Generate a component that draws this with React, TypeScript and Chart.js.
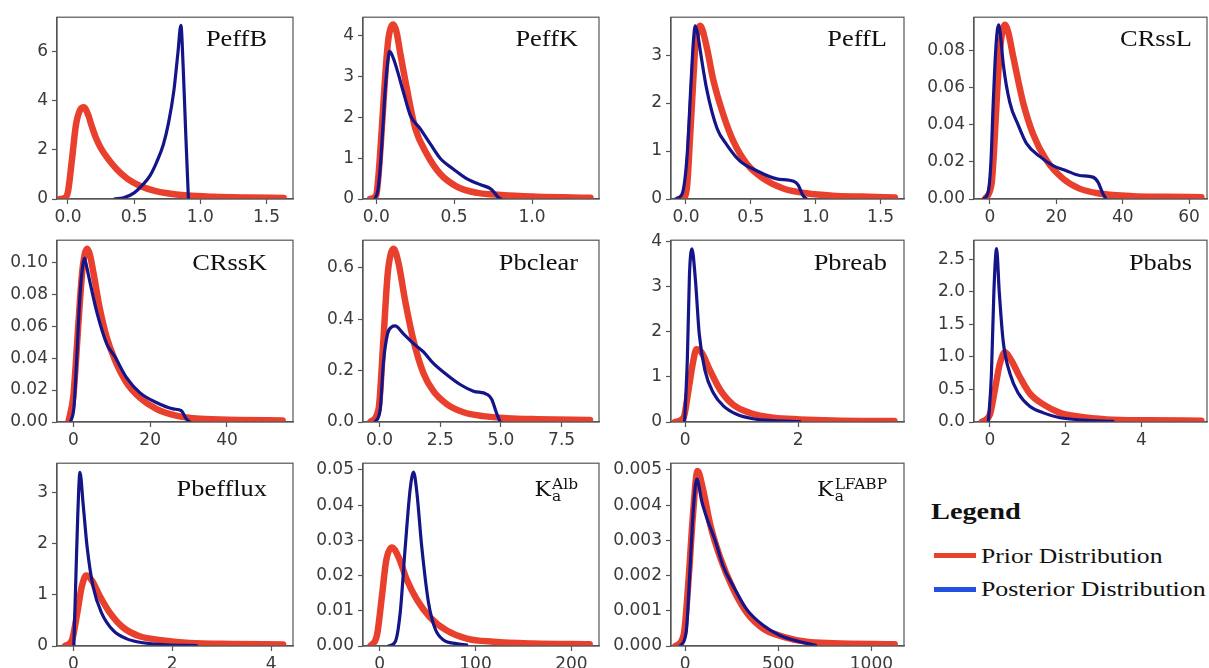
import React, { useEffect, useRef } from 'react';
import { Chart, registerables } from 'chart.js';
Chart.register(...registerables);

// ---------- data ----------
const PEFFB_PRIOR_X = [-0.06, -0.02, 0.0, 0.03, 0.06, 0.09, 0.12, 0.15, 0.18, 0.21, 0.25, 0.3, 0.37, 0.45, 0.55, 0.65, 0.75, 0.9, 1.1, 1.35, 1.63];
const PEFFB_PRIOR_Y = [0, 0.05, 0.3, 1.6, 3.0, 3.6, 3.72, 3.45, 2.95, 2.5, 2.05, 1.65, 1.2, 0.82, 0.52, 0.34, 0.23, 0.14, 0.09, 0.06, 0.04];
const PEFFB_POST_X = [0.35, 0.42, 0.5, 0.56, 0.62, 0.67, 0.72, 0.76, 0.8, 0.83, 0.853, 0.87, 0.89, 0.91];
const PEFFB_POST_Y = [0, 0.05, 0.25, 0.55, 0.95, 1.5, 2.2, 3.1, 4.4, 5.9, 7.05, 5.4, 2.6, 0];

const PEFFK_PRIOR_X = [-0.04, 0.0, 0.015, 0.03, 0.047, 0.065, 0.08, 0.11, 0.13, 0.154, 0.197, 0.25, 0.325, 0.41, 0.52, 0.65, 0.8, 1.0, 1.2, 1.375];
const PEFFK_PRIOR_Y = [0, 0.1, 0.6, 1.4, 2.4, 3.4, 3.98, 4.28, 4.1, 3.58, 2.7, 1.74, 1.1, 0.62, 0.3, 0.15, 0.1, 0.06, 0.04, 0.03];
const PEFFK_POST_X = [-0.01, 0.01, 0.026, 0.04, 0.058, 0.075, 0.086, 0.11, 0.133, 0.176, 0.218, 0.283, 0.347, 0.41, 0.5, 0.58, 0.67, 0.73, 0.76, 0.78, 0.8];
const PEFFK_POST_Y = [0, 0.2, 0.78, 1.6, 2.7, 3.4, 3.62, 3.45, 3.18, 2.6, 2.06, 1.72, 1.35, 1.0, 0.72, 0.5, 0.35, 0.26, 0.15, 0.05, 0];

const PEFFL_PRIOR_X = [-0.056, -0.02, 0.008, 0.033, 0.055, 0.072, 0.09, 0.11, 0.16, 0.21, 0.29, 0.366, 0.47, 0.6, 0.75, 0.93, 1.13, 1.35, 1.61];
const PEFFL_PRIOR_Y = [0, 0.03, 0.25, 1.34, 2.4, 3.17, 3.5, 3.61, 3.17, 2.49, 1.74, 1.2, 0.73, 0.42, 0.22, 0.12, 0.07, 0.05, 0.03];
const PEFFL_POST_X = [-0.08, -0.03, 0.008, 0.038, 0.058, 0.072, 0.09, 0.11, 0.16, 0.24, 0.315, 0.417, 0.545, 0.7, 0.83, 0.865, 0.9, 0.93];
const PEFFL_POST_Y = [0, 0.1, 0.86, 2.36, 3.3, 3.61, 3.45, 3.1, 2.29, 1.47, 1.13, 0.79, 0.59, 0.42, 0.37, 0.29, 0.08, 0];

const CRSSL_PRIOR_X = [-1.5, 0.5, 1.2, 2, 3, 4.5, 5.5, 7, 10, 13, 17, 22, 27, 33, 43, 53, 63.7];
const CRSSL_PRIOR_Y = [0, 0.0083, 0.025, 0.052, 0.08, 0.094, 0.09, 0.077, 0.052, 0.035, 0.021, 0.011, 0.0056, 0.003, 0.0015, 0.0012, 0.001];
const CRSSL_POST_X = [-2, -0.5, 0.3, 1, 1.8, 2.6, 3.2, 4, 6, 8.5, 11, 15, 19, 23, 27, 31, 32.6, 34, 35];
const CRSSL_POST_Y = [0, 0.004, 0.02, 0.052, 0.082, 0.094, 0.088, 0.073, 0.052, 0.04, 0.03, 0.023, 0.018, 0.0153, 0.0127, 0.0118, 0.009, 0.003, 0];

const CRSSK_PRIOR_X = [-1.3, 0, 0.6, 1.3, 2.4, 3.6, 4.3, 5.2, 6.9, 8.7, 10.8, 13.9, 17.3, 21.6, 26.8, 33, 43, 54.5];
const CRSSK_PRIOR_Y = [0, 0.016, 0.035, 0.061, 0.096, 0.1086, 0.105, 0.094, 0.071, 0.053, 0.039, 0.0245, 0.0153, 0.0082, 0.004, 0.002, 0.0013, 0.001];
const CRSSK_POST_X = [-0.7, 0.2, 0.7, 1.7, 2.4, 2.9, 3.5, 4.3, 6.1, 8.7, 10.8, 13.9, 17.3, 21.6, 26, 28.1, 29.4, 30.3];
const CRSSK_POST_Y = [0, 0.01, 0.031, 0.078, 0.097, 0.1027, 0.097, 0.088, 0.069, 0.049, 0.041, 0.0276, 0.0184, 0.0122, 0.0082, 0.0071, 0.002, 0];

const PBCLEAR_PRIOR_X = [-0.38, -0.04, 0.16, 0.33, 0.45, 0.58, 0.78, 1.06, 1.4, 1.81, 2.22, 2.77, 3.46, 4.28, 5.24, 6.5, 8.67];
const PBCLEAR_PRIOR_Y = [0, 0.05, 0.32, 0.57, 0.65, 0.675, 0.62, 0.47, 0.317, 0.19, 0.12, 0.07, 0.038, 0.023, 0.015, 0.011, 0.008];
const PBCLEAR_POST_X = [-0.18, 0.03, 0.16, 0.33, 0.5, 0.64, 0.99, 1.4, 1.81, 2.22, 2.77, 3.32, 3.87, 4.42, 4.62, 4.83, 4.97];
const PBCLEAR_POST_Y = [0, 0.05, 0.23, 0.343, 0.37, 0.374, 0.343, 0.305, 0.273, 0.228, 0.184, 0.146, 0.12, 0.108, 0.089, 0.032, 0];

const PBREAB_PRIOR_X = [-0.18, -0.03, 0.06, 0.135, 0.2, 0.29, 0.44, 0.62, 0.85, 1.15, 1.56, 2.03, 2.62, 3.7];
const PBREAB_PRIOR_Y = [0, 0.09, 0.71, 1.29, 1.61, 1.54, 1.14, 0.71, 0.38, 0.2, 0.094, 0.058, 0.035, 0.02];
const PBREAB_POST_X = [-0.01, 0.04, 0.076, 0.12, 0.18, 0.25, 0.35, 0.5, 0.68, 0.91, 1.2, 1.56, 2.03];
const PBREAB_POST_Y = [0, 1.43, 3.24, 3.83, 3.17, 1.94, 1.14, 0.64, 0.35, 0.17, 0.072, 0.03, 0.01];

const PBABS_PRIOR_X = [-0.22, 0, 0.13, 0.26, 0.4, 0.57, 0.79, 1.05, 1.41, 1.85, 2.37, 3.08, 4.2, 5.58];
const PBABS_PRIOR_Y = [0, 0.115, 0.49, 0.89, 1.07, 0.94, 0.69, 0.44, 0.27, 0.14, 0.08, 0.04, 0.025, 0.02];
const PBABS_POST_X = [-0.04, 0.04, 0.105, 0.176, 0.246, 0.35, 0.53, 0.75, 1.05, 1.41, 1.85, 2.46, 3.25];
const PBABS_POST_Y = [0, 0.74, 2.0, 2.66, 2.0, 1.24, 0.74, 0.44, 0.24, 0.14, 0.065, 0.03, 0.01];

const PBEFFLUX_PRIOR_X = [-0.17, -0.03, 0.08, 0.17, 0.26, 0.37, 0.54, 0.74, 1.01, 1.34, 1.82, 2.35, 3.2, 4.24];
const PBEFFLUX_PRIOR_Y = [0, 0.11, 0.65, 1.16, 1.38, 1.29, 0.97, 0.65, 0.36, 0.19, 0.11, 0.06, 0.04, 0.03];
const PBEFFLUX_POST_X = [0.01, 0.05, 0.09, 0.134, 0.2, 0.28, 0.4, 0.57, 0.81, 1.08, 1.41, 1.88, 2.49];
const PBEFFLUX_POST_Y = [0, 1.29, 2.57, 3.4, 2.76, 1.93, 1.16, 0.65, 0.3, 0.14, 0.064, 0.025, 0.01];

const KAALB_PRIOR_X = [-9.7, -2.8, 2.4, 6.9, 12.8, 19.8, 28.4, 38.8, 52.7, 70, 90.8, 118.5, 160, 219];
const KAALB_PRIOR_Y = [0, 0.003, 0.0141, 0.0243, 0.028, 0.0252, 0.0188, 0.0132, 0.0081, 0.0044, 0.0021, 0.0012, 0.0007, 0.0005];
const KAALB_POST_X = [9.4, 16.3, 21.5, 26.7, 31.9, 35.4, 38.8, 44, 51, 57.9, 66.6, 80, 90.8];
const KAALB_POST_Y = [0, 0.0012, 0.0095, 0.028, 0.0446, 0.0494, 0.0437, 0.028, 0.0123, 0.0049, 0.0017, 0.0007, 0.0003];

const KALFABP_PRIOR_X = [-54, -9, 18, 41, 66, 95, 134, 187, 259, 330, 420, 527, 652, 795, 1125];
const KALFABP_PRIOR_Y = [0, 0.0003, 0.0019, 0.0037, 0.00497, 0.00446, 0.00345, 0.00252, 0.0016, 0.00095, 0.00049, 0.00026, 0.00012, 0.00008, 0.00005];
const KALFABP_POST_X = [-27, 5, 27, 45, 62, 89, 116, 161, 205, 259, 330, 420, 509, 616, 700];
const KALFABP_POST_Y = [0, 0.0004, 0.00234, 0.004, 0.00474, 0.0041, 0.00363, 0.00299, 0.00225, 0.00169, 0.00104, 0.00058, 0.0003, 0.00012, 0.00002];

// tick labels
const TICKS_X_PEFF = [0, 0.5, 1.0, 1.5];
const TICKS_X_PEFFK = [0, 0.5, 1.0];
const TICKS_X_CRSSL = [0, 20, 40, 60];
const TICKS_X_CRSSK = [0, 20, 40];
const TICKS_X_PBCLEAR = [0, 2.5, 5.0, 7.5];
const TICKS_X_PBREAB = [0, 2];
const TICKS_X_024 = [0, 2, 4];
const TICKS_X_ALB = [0, 100, 200];
const TICKS_X_LFABP = [0, 500, 1000];
const TICKS_Y_PEFFB = [0, 2, 4, 6];
const TICKS_Y_PEFFK = [0, 1, 2, 3, 4];
const TICKS_Y_0123 = [0, 1, 2, 3];
const TICKS_Y_CRSSL = [0, 0.02, 0.04, 0.06, 0.08];
const TICKS_Y_CRSSK = [0, 0.02, 0.04, 0.06, 0.08, 0.1];
const TICKS_Y_PBCLEAR = [0, 0.2, 0.4, 0.6];
const TICKS_Y_PBABS = [0, 0.5, 1.0, 1.5, 2.0, 2.5];
const TICKS_Y_ALB = [0, 0.01, 0.02, 0.03, 0.04, 0.05];
const TICKS_Y_LFABP = [0, 0.001, 0.002, 0.003, 0.004, 0.005];

const LEGEND_LABELS = ['Prior Distribution', 'Posterior Distribution'];

// ---------- styling / layout ----------
const PRIOR_COLOR = '#e9402d';
const POST_COLOR = '#15158a';
const LEGEND_PRIOR = '#e8412e';
const LEGEND_POST = '#2150e3';
const TICK_COLOR = '#3a3a3a';
const AXIS_COLOR = '#555555';

const YW = 72;
const XH = 30;
const TOP_PAD = 10;
const RIGHT_PAD = 2;
const COL_L = [57, 363, 671, 974];
const COL_R = [293, 599, 904, 1207];
const ROW_T = [13, 236, 459];
const ROW_B = [199, 422, 646];
const TITLE_RPAD = [26, 21, 17, 15];
const TITLE_DY = [29, 30, 33];

type PanelSpec = {
  title: string;
  sup?: string;
  row: number;
  col: number;
  priorX: number[]; priorY: number[];
  postX: number[]; postY: number[];
  xMin: number; xMax: number; yMax: number;
  xTicks: number[]; yTicks: number[];
  xDec: number; yDec: number;
};

const PANELS: PanelSpec[] = [
  { title: 'PeffB', row: 0, col: 0, priorX: PEFFB_PRIOR_X, priorY: PEFFB_PRIOR_Y, postX: PEFFB_POST_X, postY: PEFFB_POST_Y, xMin: -0.083, xMax: 1.70, yMax: 7.38, xTicks: TICKS_X_PEFF, yTicks: TICKS_Y_PEFFB, xDec: 1, yDec: 0 },
  { title: 'PeffK', row: 0, col: 1, priorX: PEFFK_PRIOR_X, priorY: PEFFK_PRIOR_Y, postX: PEFFK_POST_X, postY: PEFFK_POST_Y, xMin: -0.085, xMax: 1.43, yMax: 4.46, xTicks: TICKS_X_PEFFK, yTicks: TICKS_Y_PEFFK, xDec: 1, yDec: 0 },
  { title: 'PeffL', row: 0, col: 2, priorX: PEFFL_PRIOR_X, priorY: PEFFL_PRIOR_Y, postX: PEFFL_POST_X, postY: PEFFL_POST_Y, xMin: -0.115, xMax: 1.68, yMax: 3.79, xTicks: TICKS_X_PEFF, yTicks: TICKS_Y_0123, xDec: 1, yDec: 0 },
  { title: 'CRssL', row: 0, col: 3, priorX: CRSSL_PRIOR_X, priorY: CRSSL_PRIOR_Y, postX: CRSSL_POST_X, postY: CRSSL_POST_Y, xMin: -4.8, xMax: 65.4, yMax: 0.0981, xTicks: TICKS_X_CRSSL, yTicks: TICKS_Y_CRSSL, xDec: 0, yDec: 2 },
  { title: 'CRssK', row: 1, col: 0, priorX: CRSSK_PRIOR_X, priorY: CRSSK_PRIOR_Y, postX: CRSSK_POST_X, postY: CRSSK_POST_Y, xMin: -4.25, xMax: 57.2, yMax: 0.1139, xTicks: TICKS_X_CRSSK, yTicks: TICKS_Y_CRSSK, xDec: 0, yDec: 2 },
  { title: 'Pbclear', row: 1, col: 1, priorX: PBCLEAR_PRIOR_X, priorY: PBCLEAR_PRIOR_Y, postX: PBCLEAR_POST_X, postY: PBCLEAR_POST_Y, xMin: -0.68, xMax: 9.04, yMax: 0.708, xTicks: TICKS_X_PBCLEAR, yTicks: TICKS_Y_PBCLEAR, xDec: 1, yDec: 1 },
  { title: 'Pbreab', row: 1, col: 2, priorX: PBREAB_PRIOR_X, priorY: PBREAB_PRIOR_Y, postX: PBREAB_POST_X, postY: PBREAB_POST_Y, xMin: -0.25, xMax: 3.87, yMax: 4.02, xTicks: TICKS_X_PBREAB, yTicks: TICKS_Y_PEFFK, xDec: 0, yDec: 0 },
  { title: 'Pbabs', row: 1, col: 3, priorX: PBABS_PRIOR_X, priorY: PBABS_PRIOR_Y, postX: PBABS_POST_X, postY: PBABS_POST_Y, xMin: -0.42, xMax: 5.73, yMax: 2.79, xTicks: TICKS_X_024, yTicks: TICKS_Y_PBABS, xDec: 0, yDec: 1 },
  { title: 'Pbefflux', row: 2, col: 0, priorX: PBEFFLUX_PRIOR_X, priorY: PBEFFLUX_PRIOR_Y, postX: PBEFFLUX_POST_X, postY: PBEFFLUX_POST_Y, xMin: -0.33, xMax: 4.44, yMax: 3.58, xTicks: TICKS_X_024, yTicks: TICKS_Y_0123, xDec: 0, yDec: 0 },
  { title: 'K', sup: 'Alb', row: 2, col: 1, priorX: KAALB_PRIOR_X, priorY: KAALB_PRIOR_Y, postX: KAALB_POST_X, postY: KAALB_POST_Y, xMin: -17.3, xMax: 228.7, yMax: 0.0519, xTicks: TICKS_X_ALB, yTicks: TICKS_Y_ALB, xDec: 0, yDec: 2 },
  { title: 'K', sup: 'LFABP', row: 2, col: 2, priorX: KALFABP_PRIOR_X, priorY: KALFABP_PRIOR_Y, postX: KALFABP_POST_X, postY: KALFABP_POST_Y, xMin: -76.6, xMax: 1175, yMax: 0.00519, xTicks: TICKS_X_LFABP, yTicks: TICKS_Y_LFABP, xDec: 0, yDec: 3 },
];

const toPoints = (xs: number[], ys: number[]) => xs.map((x, i) => ({ x, y: ys[i] }));

function Panel({ p }: { p: PanelSpec }) {
  const ref = useRef<HTMLCanvasElement | null>(null);
  const L = COL_L[p.col], R = COL_R[p.col], T = ROW_T[p.row], B = ROW_B[p.row];
  const W = YW + (R - L) + RIGHT_PAD;
  const H = TOP_PAD + (B - T) + XH;

  useEffect(() => {
    if (!ref.current) return;
    const decor = {
      id: 'panelDecor',
      afterDraw(chart: any) {
        const { ctx, chartArea: a } = chart;
        ctx.save();
        ctx.strokeStyle = AXIS_COLOR;
        ctx.lineWidth = 1.2;
        ctx.strokeRect(a.left, a.top, a.right - a.left, a.bottom - a.top);
        const SX = 1.1;
        const right = a.right - TITLE_RPAD[p.col];
        const base = a.top + TITLE_DY[p.row];
        ctx.fillStyle = '#111';
        ctx.textBaseline = 'alphabetic';
        ctx.textAlign = 'left';
        if (!p.sup) {
          ctx.font = '24px "Liberation Serif"';
          const w = ctx.measureText(p.title).width * SX;
          ctx.translate(right - w, base);
          ctx.scale(SX, 1);
          ctx.fillText(p.title, 0, 0);
        } else {
          ctx.font = '20px "DejaVu Serif"';
          const wK = ctx.measureText(p.title).width;
          ctx.font = '14px "DejaVu Serif"';
          const wSup = ctx.measureText(p.sup).width;
          const wSub = ctx.measureText('a').width;
          const total = (wK + 1 + Math.max(wSup, wSub)) * SX;
          ctx.translate(right - total, base);
          ctx.scale(SX, 1);
          ctx.font = '20px "DejaVu Serif"';
          ctx.fillText(p.title, 0, 0);
          ctx.font = '14px "DejaVu Serif"';
          ctx.fillText(p.sup, wK + 1, -7);
          ctx.fillText('a', wK + 1, 5);
        }
        ctx.restore();
      },
    };

    const tickFont = { family: '"DejaVu Sans"', size: 17 };
    const chart = new Chart(ref.current, {
      type: 'line',
      data: {
        datasets: [
          {
            label: LEGEND_LABELS[1],
            data: toPoints(p.postX, p.postY),
            borderColor: POST_COLOR,
            borderWidth: 3.2,
            order: 0,
          },
          {
            label: LEGEND_LABELS[0],
            data: toPoints(p.priorX, p.priorY),
            borderColor: PRIOR_COLOR,
            borderWidth: 6.5,
            order: 1,
          },
        ],
      },
      options: {
        responsive: false,
        animation: false,
        devicePixelRatio: 1,
        layout: { padding: { top: TOP_PAD, right: RIGHT_PAD, left: 0, bottom: 0 } },
        plugins: { legend: { display: false }, tooltip: { enabled: false } },
        elements: {
          point: { radius: 0, hoverRadius: 0 },
          line: { cubicInterpolationMode: 'monotone', borderCapStyle: 'round', borderJoinStyle: 'round', fill: false },
        },
        scales: {
          x: {
            type: 'linear',
            min: p.xMin,
            max: p.xMax,
            bounds: 'data',
            afterFit: (s: any) => { s.height = XH; },
            afterBuildTicks: (s: any) => { s.ticks = p.xTicks.map((v) => ({ value: v })); },
            ticks: {
              callback: (v: any) => Number(v).toFixed(p.xDec),
              font: tickFont,
              color: TICK_COLOR,
              padding: 3,
              maxRotation: 0,
              autoSkip: false,
            },
            grid: { display: true, drawOnChartArea: false, drawTicks: true, tickLength: 5, tickColor: AXIS_COLOR, tickWidth: 1.2 },
            border: { display: true, color: AXIS_COLOR, width: 1.2 },
          },
          y: {
            type: 'linear',
            min: 0,
            max: p.yMax,
            bounds: 'data',
            afterFit: (s: any) => { s.width = YW; },
            afterBuildTicks: (s: any) => { s.ticks = p.yTicks.map((v) => ({ value: v })); },
            ticks: {
              callback: (v: any) => Number(v).toFixed(p.yDec),
              font: tickFont,
              color: TICK_COLOR,
              padding: 4,
              autoSkip: false,
            },
            grid: { display: true, drawOnChartArea: false, drawTicks: true, tickLength: 5, tickColor: AXIS_COLOR, tickWidth: 1.2 },
            border: { display: true, color: AXIS_COLOR, width: 1.2 },
          },
        },
      } as any,
      plugins: [decor],
    });
    return () => chart.destroy();
  }, []);

  return (
    <canvas
      ref={ref}
      width={W}
      height={H}
      style={{ position: 'absolute', left: L - YW, top: T - TOP_PAD, width: W, height: H }}
    />
  );
}

function LegendBox() {
  const serif = '"Liberation Serif", "Times New Roman", serif';
  return (
    <>
      <div style={{ position: 'absolute', left: 931, top: 499, fontFamily: serif, fontWeight: 'bold', fontSize: 24, lineHeight: '24px', color: '#111', transform: 'scaleX(1.18)', transformOrigin: 'left top', whiteSpace: 'nowrap' }}>Legend</div>
      <div style={{ position: 'absolute', left: 934, top: 553, width: 42, height: 5, background: LEGEND_PRIOR }} />
      <div style={{ position: 'absolute', left: 981, top: 545.5, fontFamily: serif, fontSize: 21, lineHeight: '21px', color: '#111', transform: 'scaleX(1.22)', transformOrigin: 'left top', whiteSpace: 'nowrap' }}>{LEGEND_LABELS[0]}</div>
      <div style={{ position: 'absolute', left: 934, top: 587, width: 42, height: 5, background: LEGEND_POST }} />
      <div style={{ position: 'absolute', left: 981, top: 579, fontFamily: serif, fontSize: 21, lineHeight: '21px', color: '#111', transform: 'scaleX(1.23)', transformOrigin: 'left top', whiteSpace: 'nowrap' }}>{LEGEND_LABELS[1]}</div>
    </>
  );
}

export default function App() {
  return (
    <div style={{ position: 'absolute', left: 0, top: 0, width: 1209, height: 668, overflow: 'hidden', background: '#ffffff' }}>
      {PANELS.map((p, i) => (
        <Panel key={i} p={p} />
      ))}
      <LegendBox />
    </div>
  );
}
